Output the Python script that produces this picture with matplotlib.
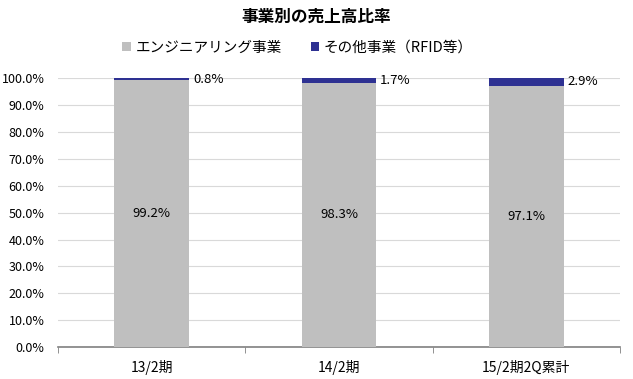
import numpy as np
import matplotlib.pyplot as plt
from matplotlib.ticker import FuncFormatter

plt.rcParams['font.family'] = ['Noto Sans CJK JP', 'DejaVu Sans']

categories = ['13/2期', '14/2期', '15/2期2Q累計']
engineering = [99.2, 98.3, 97.1]
other = [0.8, 1.7, 2.9]
series_names = ['エンジニアリング事業', 'その他事業（RFID等）']

gray = '#BFBFBF'
navy = '#2E3192'

fig = plt.figure(figsize=(6.33, 3.79), dpi=100)
ax = fig.add_axes([0.092, 0.084, 0.887, 0.71])

x = np.arange(len(categories))
w = 0.4
b1 = ax.bar(x, engineering, w, color=gray, label=series_names[0], zorder=3)
b2 = ax.bar(x, other, w, bottom=engineering, color=navy, label=series_names[1], zorder=3)

for i in range(len(categories)):
    ax.text(x[i], engineering[i] / 2, f'{engineering[i]:.1f}%', ha='center', va='center', fontsize=9.5)
    ax.text(x[i] + w / 2 + 0.02, engineering[i] + other[i] / 2, f'{other[i]:.1f}%',
            ha='left', va='center', fontsize=9.5)

ax.set_xlim(-0.5, 2.5)
ax.set_ylim(0, 100)
ax.set_yticks(np.arange(0, 101, 10))
ax.yaxis.set_major_formatter(FuncFormatter(lambda v, p: f'{v:.1f}%'))
ax.grid(axis='y', color='#D9D9D9', linewidth=0.8, zorder=0)
ax.set_xticks(x)
ax.set_xticklabels(categories, fontsize=10)
ax.set_xticks([-0.5, 0.5, 1.5, 2.5], minor=True)
ax.tick_params(axis='x', which='major', length=0, pad=9)
ax.tick_params(axis='x', which='minor', length=4, color='#808080', direction='out')
ax.tick_params(axis='y', length=0, labelsize=9, pad=10)
for s in ['top', 'right', 'left']:
    ax.spines[s].set_visible(False)
ax.spines['bottom'].set_color('#808080')
ax.spines['bottom'].set_linewidth(1.2)

fig.text(0.5, 0.955, '事業別の売上高比率', ha='center', va='center', fontsize=12, fontweight='bold')
fig.legend(handles=[b1, b2], loc='center', bbox_to_anchor=(0.47, 0.875), ncol=2, frameon=False,
           fontsize=10.5, handlelength=0.6, handleheight=0.6, columnspacing=2.0, handletextpad=0.3)

plt.savefig('out.png', dpi=100)
